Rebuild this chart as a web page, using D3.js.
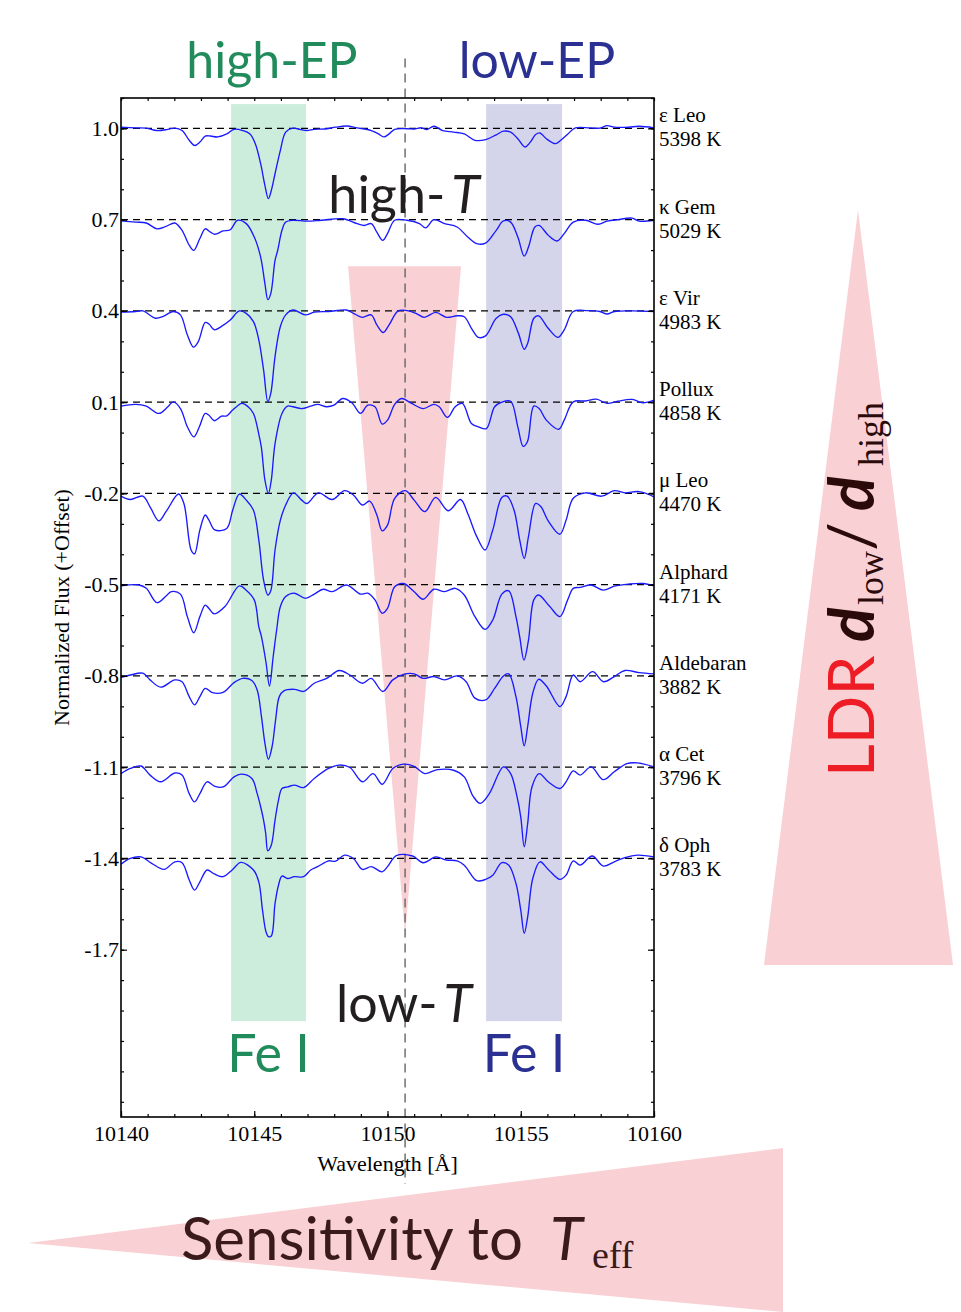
<!DOCTYPE html>
<html><head><meta charset="utf-8">
<script src="https://cdn.jsdelivr.net/npm/d3@7"></script>
<style>body{margin:0;background:#fff}svg{display:block}</style>
</head><body>
<svg id="chart" width="961" height="1312"></svg>
<script>
// ---------- data ----------
const starNames = ["ε Leo","κ Gem","ε Vir","Pollux","μ Leo","Alphard","Aldebaran","α Cet","δ Oph"];
const starTeff = [5398,5029,4983,4858,4470,4171,3882,3796,3783];
const offsets = [0,-0.3,-0.6,-0.9,-1.2,-1.5,-1.8,-2.1,-2.4];

const specEpsLeo = [[10140.00,1.004],[10140.55,1.002],[10140.95,1.001],[10141.35,0.993],[10141.76,0.997],[10142.02,1.001],[10142.29,0.993],[10142.56,0.961],[10142.76,0.944],[10142.96,0.955],[10143.16,0.975],[10143.36,0.975],[10143.63,0.972],[10143.97,0.982],[10144.24,0.997],[10144.57,0.993],[10144.84,0.982],[10145.04,0.950],[10145.24,0.884],[10145.40,0.813],[10145.53,0.769],[10145.64,0.796],[10145.78,0.851],[10145.98,0.928],[10146.18,0.988],[10146.45,1.001],[10146.71,0.997],[10146.98,0.993],[10147.25,0.997],[10147.65,0.998],[10148.05,1.004],[10148.46,1.008],[10148.86,1.002],[10149.39,0.993],[10149.66,0.982],[10149.86,0.972],[10150.06,0.982],[10150.27,0.997],[10150.73,0.999],[10151.00,0.998],[10151.27,1.002],[10151.47,0.996],[10151.74,1.007],[10152.07,0.993],[10152.48,0.988],[10152.88,0.982],[10153.28,0.961],[10153.68,0.963],[10154.08,0.979],[10154.35,0.991],[10154.62,0.988],[10154.89,0.966],[10155.16,0.939],[10155.36,0.955],[10155.56,0.980],[10155.72,0.985],[10155.96,0.966],[10156.30,0.950],[10156.50,0.961],[10156.77,0.982],[10157.03,1.001],[10157.57,1.002],[10157.97,1.001],[10158.24,1.009],[10158.51,1.004],[10159.04,1.004],[10159.44,1.007],[10160.00,1.002]];
const specKapGem = [[10140.00,0.996],[10140.55,0.992],[10140.95,0.989],[10141.35,0.970],[10141.69,0.978],[10142.02,0.989],[10142.29,0.965],[10142.56,0.916],[10142.73,0.899],[10142.96,0.938],[10143.16,0.970],[10143.36,0.959],[10143.52,0.952],[10143.83,0.963],[10144.10,0.967],[10144.37,0.998],[10144.70,0.987],[10145.00,0.943],[10145.24,0.877],[10145.40,0.790],[10145.51,0.737],[10145.62,0.757],[10145.78,0.866],[10145.88,0.899],[10146.04,0.965],[10146.18,0.992],[10146.45,0.998],[10146.98,0.995],[10147.52,0.998],[10148.32,1.003],[10148.86,0.987],[10149.13,0.981],[10149.39,0.987],[10149.60,0.959],[10149.82,0.932],[10150.00,0.954],[10150.27,0.998],[10150.73,0.998],[10151.20,0.987],[10151.43,0.973],[10151.74,1.000],[10152.14,0.987],[10152.61,0.976],[10153.01,0.943],[10153.35,0.921],[10153.68,0.923],[10154.08,0.965],[10154.35,0.996],[10154.62,0.992],[10154.89,0.943],[10155.13,0.880],[10155.29,0.910],[10155.53,0.976],[10155.69,0.981],[10156.03,0.949],[10156.36,0.930],[10156.63,0.954],[10156.97,0.992],[10157.43,0.998],[10157.90,0.985],[10158.24,0.995],[10158.64,1.000],[10159.18,1.005],[10159.44,0.995],[10160.00,0.998]];
const specEpsVir = [[10140.00,0.996],[10140.55,0.998],[10140.82,1.000],[10141.29,0.976],[10141.56,0.981],[10141.96,0.998],[10142.23,0.987],[10142.49,0.921],[10142.72,0.881],[10142.90,0.899],[10143.16,0.962],[10143.30,0.957],[10143.50,0.938],[10143.77,0.949],[10144.10,0.970],[10144.44,1.000],[10144.70,0.992],[10144.97,0.965],[10145.17,0.905],[10145.35,0.806],[10145.51,0.702],[10145.62,0.729],[10145.78,0.850],[10145.98,0.949],[10146.18,0.987],[10146.45,1.003],[10146.92,0.987],[10147.25,0.996],[10147.79,0.998],[10148.46,1.003],[10148.72,0.992],[10149.06,0.979],[10149.39,0.987],[10149.60,0.954],[10149.84,0.929],[10150.06,0.954],[10150.40,1.000],[10150.73,1.001],[10151.07,0.992],[10151.38,0.979],[10151.81,0.995],[10152.21,0.979],[10152.61,0.984],[10152.88,0.981],[10153.15,0.943],[10153.41,0.913],[10153.68,0.918],[10154.08,0.976],[10154.35,0.989],[10154.62,0.981],[10154.91,0.927],[10155.13,0.874],[10155.26,0.894],[10155.49,0.976],[10155.67,0.984],[10156.03,0.943],[10156.39,0.913],[10156.63,0.938],[10156.97,0.998],[10157.50,1.001],[10157.97,0.998],[10158.24,0.990],[10158.51,0.998],[10159.18,1.000],[10160.00,0.998]];
const specPollux = [[10140.00,0.987],[10140.55,0.993],[10140.95,0.987],[10141.42,0.963],[10141.76,0.985],[10141.96,1.001],[10142.23,0.979],[10142.49,0.919],[10142.73,0.886],[10142.94,0.919],[10143.16,0.963],[10143.30,0.957],[10143.50,0.939],[10143.77,0.954],[10143.97,0.955],[10144.19,0.974],[10144.54,0.996],[10144.77,0.985],[10144.97,0.963],[10145.17,0.895],[10145.27,0.850],[10145.40,0.744],[10145.53,0.700],[10145.64,0.744],[10145.78,0.864],[10146.04,0.963],[10146.25,0.987],[10146.45,0.985],[10146.78,0.979],[10147.12,0.987],[10147.38,0.993],[10147.72,0.985],[10147.99,0.990],[10148.32,1.012],[10148.66,0.998],[10148.99,0.963],[10149.26,0.990],[10149.53,0.985],[10149.80,0.928],[10150.00,0.941],[10150.27,0.993],[10150.53,1.012],[10150.87,0.998],[10151.34,0.979],[10151.74,0.993],[10151.94,0.985],[10152.25,0.950],[10152.54,0.985],[10152.81,0.996],[10153.15,0.930],[10153.41,0.919],[10153.71,0.913],[10154.02,0.985],[10154.29,1.000],[10154.62,1.003],[10154.89,0.919],[10155.09,0.855],[10155.25,0.870],[10155.49,0.987],[10155.69,0.979],[10155.96,0.941],[10156.43,0.911],[10156.63,0.941],[10156.97,1.001],[10157.43,1.004],[10157.84,1.010],[10158.24,0.996],[10158.64,1.003],[10159.18,1.009],[10159.58,0.998],[10160.00,1.007]];
const specMuLeo = [[10140.00,0.991],[10140.35,0.980],[10140.82,0.991],[10141.09,0.956],[10141.42,0.910],[10141.69,0.940],[10142.16,0.998],[10142.36,0.967],[10142.63,0.814],[10142.76,0.801],[10142.96,0.880],[10143.16,0.929],[10143.30,0.912],[10143.52,0.880],[10143.97,0.885],[10144.19,0.945],[10144.44,0.998],[10144.70,0.978],[10144.97,0.945],[10145.17,0.847],[10145.35,0.715],[10145.51,0.666],[10145.62,0.680],[10145.78,0.814],[10145.98,0.912],[10146.18,0.962],[10146.47,1.002],[10146.78,0.978],[10146.98,0.967],[10147.41,1.002],[10147.92,0.980],[10148.39,1.009],[10148.72,0.995],[10149.06,0.962],[10149.33,0.975],[10149.60,0.929],[10149.80,0.877],[10150.00,0.896],[10150.27,0.984],[10150.67,1.009],[10151.00,0.978],[10151.40,0.940],[10151.81,0.987],[10152.28,0.943],[10152.74,0.980],[10153.01,0.934],[10153.35,0.858],[10153.66,0.814],[10153.95,0.880],[10154.29,0.987],[10154.49,0.991],[10154.75,0.945],[10154.96,0.847],[10155.13,0.786],[10155.29,0.858],[10155.56,0.967],[10155.76,0.956],[10156.03,0.910],[10156.47,0.866],[10156.70,0.912],[10156.97,0.984],[10157.43,1.002],[10158.04,0.991],[10158.51,1.009],[10158.91,1.002],[10159.44,1.006],[10160.00,0.989]];
const specAlphard = [[10140.00,0.996],[10140.68,0.999],[10140.95,0.988],[10141.35,0.941],[10141.69,0.963],[10141.89,0.977],[10142.23,0.969],[10142.49,0.895],[10142.73,0.842],[10142.96,0.895],[10143.16,0.933],[10143.30,0.922],[10143.50,0.904],[10143.90,0.928],[10144.44,0.996],[10144.70,0.982],[10145.00,0.950],[10145.17,0.862],[10145.27,0.829],[10145.44,0.745],[10145.57,0.667],[10145.71,0.763],[10145.84,0.851],[10145.98,0.928],[10146.18,0.961],[10146.51,0.972],[10146.92,0.955],[10147.25,0.969],[10147.59,0.985],[10147.92,0.977],[10148.46,0.999],[10148.99,0.969],[10149.26,0.972],[10149.53,0.950],[10149.80,0.906],[10150.00,0.922],[10150.27,0.993],[10150.60,1.004],[10151.00,0.977],[10151.34,0.952],[10151.74,0.985],[10152.14,0.977],[10152.54,0.988],[10152.88,0.966],[10153.28,0.895],[10153.66,0.853],[10153.95,0.884],[10154.29,0.969],[10154.55,0.980],[10154.82,0.895],[10154.96,0.829],[10155.12,0.752],[10155.29,0.818],[10155.49,0.950],[10155.67,0.966],[10156.09,0.928],[10156.47,0.895],[10156.76,0.950],[10156.97,0.988],[10157.23,0.991],[10157.64,0.999],[10158.10,0.982],[10158.51,0.995],[10159.04,1.002],[10159.58,1.004],[10160.00,0.996]];
const specAldebaran = [[10140.00,0.995],[10140.35,1.003],[10140.82,1.009],[10141.09,0.987],[10141.49,0.963],[10142.02,0.987],[10142.29,0.981],[10142.56,0.932],[10142.76,0.905],[10142.96,0.932],[10143.16,0.959],[10143.43,0.945],[10143.83,0.946],[10144.24,0.978],[10144.57,0.992],[10144.91,0.985],[10145.11,0.954],[10145.27,0.866],[10145.40,0.779],[10145.53,0.726],[10145.67,0.768],[10145.80,0.855],[10145.94,0.932],[10146.11,0.951],[10146.51,0.956],[10146.85,0.949],[10147.25,0.976],[10147.72,0.992],[10148.19,1.018],[10148.59,1.003],[10149.06,0.976],[10149.39,0.992],[10149.82,0.949],[10150.20,0.987],[10150.60,1.005],[10151.00,1.007],[10151.34,0.992],[10151.74,0.998],[10152.14,0.987],[10152.61,1.000],[10152.95,0.981],[10153.28,0.927],[10153.68,0.921],[10154.02,0.959],[10154.35,1.000],[10154.55,1.007],[10154.82,0.932],[10155.00,0.834],[10155.13,0.770],[10155.26,0.834],[10155.45,0.943],[10155.67,0.989],[10155.96,0.967],[10156.47,0.899],[10156.70,0.932],[10156.97,1.003],[10157.23,0.981],[10157.70,1.014],[10158.10,0.981],[10158.51,0.998],[10158.91,1.018],[10159.44,1.011],[10160.00,1.007]];
const specAlpCet = [[10140.00,0.979],[10140.35,0.996],[10140.75,1.004],[10141.09,0.974],[10141.49,0.952],[10142.02,0.981],[10142.29,0.974],[10142.56,0.913],[10142.76,0.886],[10142.96,0.913],[10143.23,0.952],[10143.50,0.938],[10143.83,0.935],[10144.24,0.968],[10144.50,0.977],[10144.91,0.963],[10145.11,0.913],[10145.24,0.870],[10145.35,0.826],[10145.43,0.782],[10145.51,0.725],[10145.64,0.744],[10145.78,0.826],[10145.91,0.892],[10146.04,0.930],[10146.25,0.935],[10146.51,0.941],[10146.85,0.933],[10147.25,0.963],[10147.79,0.996],[10148.19,1.007],[10148.59,0.999],[10149.06,0.952],[10149.46,0.979],[10149.80,0.944],[10150.20,0.996],[10150.60,1.010],[10151.00,1.003],[10151.40,0.979],[10151.87,0.992],[10152.48,0.990],[10152.88,0.968],[10153.21,0.905],[10153.48,0.881],[10153.82,0.913],[10154.35,1.001],[10154.62,0.979],[10154.86,0.903],[10155.00,0.837],[10155.13,0.738],[10155.26,0.815],[10155.42,0.935],[10155.69,0.979],[10156.03,0.952],[10156.47,0.930],[10156.70,0.952],[10156.97,0.988],[10157.23,0.974],[10157.64,1.001],[10158.10,0.959],[10158.51,0.985],[10158.98,1.012],[10159.38,1.014],[10160.00,1.001]];
const specDelOph = [[10140.00,0.981],[10140.35,1.000],[10140.75,1.005],[10141.15,0.984],[10141.62,0.964],[10142.02,0.989],[10142.29,0.986],[10142.56,0.929],[10142.76,0.896],[10142.96,0.923],[10143.23,0.962],[10143.50,0.949],[10143.83,0.940],[10144.17,0.962],[10144.50,0.987],[10144.97,0.962],[10145.17,0.923],[10145.31,0.830],[10145.44,0.759],[10145.53,0.743],[10145.64,0.745],[10145.78,0.852],[10145.91,0.912],[10146.04,0.942],[10146.25,0.934],[10146.51,0.940],[10146.85,0.940],[10147.12,0.962],[10147.38,0.973],[10147.79,0.992],[10148.05,0.991],[10148.39,1.011],[10148.72,1.000],[10149.06,0.964],[10149.39,0.973],[10149.80,0.956],[10150.00,0.973],[10150.33,1.009],[10150.94,1.008],[10151.34,0.986],[10151.81,1.005],[10152.21,0.995],[10152.61,0.992],[10152.88,0.978],[10153.35,0.927],[10153.68,0.931],[10153.95,0.945],[10154.29,0.986],[10154.55,0.978],[10154.82,0.918],[10155.00,0.830],[10155.13,0.754],[10155.26,0.808],[10155.45,0.934],[10155.72,0.989],[10156.03,0.964],[10156.47,0.931],[10156.70,0.945],[10156.97,0.992],[10157.23,0.978],[10157.68,1.008],[10158.10,0.975],[10158.51,0.989],[10158.91,1.003],[10159.38,1.011],[10160.00,1.005]];
const spectra = [specEpsLeo,specKapGem,specEpsVir,specPollux,specMuLeo,specAlphard,specAldebaran,specAlpCet,specDelOph];

const xDomain = [10140,10160];
const yDomain = [-2.25,1.1];
const xMajorTicks = [10140,10145,10150,10155,10160];
const yMajorTicks = [1.0,0.7,0.4,0.1,-0.2,-0.5,-0.8,-1.1,-1.4,-1.7];
const highEPBand = [10144.13,10146.94];
const lowEPBand = [10153.70,10156.55];
const bandRange = [-1.935,1.08];
const refWave = 10150.66;
const refLineRange = [-2.47,1.23];
const funnelTop = {y:0.547, left:10148.52, right:10152.76};
const funnelTip = {x:10150.66, y:-1.652};

// ---------- layout ----------
const svg = d3.select("#chart");
const M = {left:121, right:654, top:98, bottom:1117};
const x = d3.scaleLinear().domain(xDomain).range([M.left,M.right]);
const y = d3.scaleLinear().domain(yDomain).range([M.bottom,M.top]);
const serif = "'Liberation Serif','Times New Roman',serif";
const sans = "Lato,'Open Sans',sans-serif";
const pink = "#f9d0d3";

// decorative triangles outside plot
svg.append("polygon").attr("points","858,210 764,965 953,965").attr("fill",pink);
svg.append("polygon").attr("points","28,1243 783,1148 783,1312").attr("fill",pink);

// bands
svg.append("rect").attr("x",x(highEPBand[0])).attr("width",x(highEPBand[1])-x(highEPBand[0]))
  .attr("y",y(bandRange[1])).attr("height",y(bandRange[0])-y(bandRange[1])).attr("fill","#cdeddc");
svg.append("rect").attr("x",x(lowEPBand[0])).attr("width",x(lowEPBand[1])-x(lowEPBand[0]))
  .attr("y",y(bandRange[1])).attr("height",y(bandRange[0])-y(bandRange[1])).attr("fill","#d4d5ea");
svg.append("polygon").attr("fill",pink)
  .attr("points",[[x(funnelTop.left),y(funnelTop.y)],[x(funnelTop.right),y(funnelTop.y)],[x(funnelTip.x),y(funnelTip.y)]].map(p=>p.join(",")).join(" "));

// reference vertical dashed line
svg.append("line").attr("x1",x(refWave)).attr("x2",x(refWave)).attr("y1",y(refLineRange[1])).attr("y2",y(refLineRange[0]))
  .attr("stroke","#666").attr("stroke-width",1.4).attr("stroke-dasharray","9,6");

// continuum dashed lines
svg.append("g").selectAll("line").data(offsets).join("line")
  .attr("x1",M.left).attr("x2",M.right).attr("y1",d=>y(1+d)).attr("y2",d=>y(1+d))
  .attr("stroke","#000").attr("stroke-width",1.2).attr("stroke-dasharray","7,5");

// spectra
const line = d3.line().curve(d3.curveCatmullRom.alpha(0.5));
svg.append("g").selectAll("path").data(spectra).join("path")
  .attr("d",(s,i)=>line(s.map(p=>[x(p[0]),y(p[1]+offsets[i])])))
  .attr("fill","none").attr("stroke","#1a1aff").attr("stroke-width",1.35);

// axes
const xMinor = d3.range(10140,10161,1);
const yMinor = d3.range(-22,12,1).map(v=>v/10);
function styleAxis(g){ g.select(".domain").remove(); g.selectAll("line").attr("stroke","#000").attr("stroke-width",1.2); }
svg.append("g").attr("transform",`translate(0,${M.bottom})`)
  .call(d3.axisBottom(x).tickValues(xMinor).tickSize(-3).tickFormat("")).call(styleAxis);
svg.append("g").attr("transform",`translate(0,${M.bottom})`)
  .call(d3.axisBottom(x).tickValues(xMajorTicks).tickSize(-6).tickPadding(8).tickFormat(d3.format("d")))
  .call(styleAxis).call(g=>g.selectAll("text").attr("font-family",serif).attr("font-size",22).attr("fill","#000"));
svg.append("g").attr("transform",`translate(0,${M.top})`)
  .call(d3.axisTop(x).tickValues(xMinor).tickSize(-3).tickFormat("")).call(styleAxis);
svg.append("g").attr("transform",`translate(${M.left},0)`)
  .call(d3.axisLeft(y).tickValues(yMinor).tickSize(-3).tickFormat("")).call(styleAxis);
svg.append("g").attr("transform",`translate(${M.left},0)`)
  .call(d3.axisLeft(y).tickValues(yMajorTicks).tickSize(-6).tickPadding(2).tickFormat(d=>d.toFixed(1)))
  .call(styleAxis).call(g=>g.selectAll("text").attr("font-family",serif).attr("font-size",22).attr("fill","#000"));
svg.append("g").attr("transform",`translate(${M.right},0)`)
  .call(d3.axisRight(y).tickValues(yMinor).tickSize(-3).tickFormat("")).call(styleAxis);
svg.append("g").attr("transform",`translate(${M.right},0)`)
  .call(d3.axisRight(y).tickValues(yMajorTicks).tickSize(-6).tickFormat("")).call(styleAxis);

// frame
svg.append("rect").attr("x",M.left).attr("y",M.top).attr("width",M.right-M.left).attr("height",M.bottom-M.top)
  .attr("fill","none").attr("stroke","#000").attr("stroke-width",1.6);

// axis titles
svg.append("text").attr("x",(M.left+M.right)/2).attr("y",1171).attr("text-anchor","middle")
  .attr("font-family",serif).attr("font-size",22).text("Wavelength [Å]");
svg.append("text").attr("transform",`translate(69,${(M.top+M.bottom)/2}) rotate(-90)`).attr("text-anchor","middle")
  .attr("font-family",serif).attr("font-size",22).text("Normalized Flux (+Offset)");

// star labels
const lab = svg.append("g").attr("font-family",serif).attr("font-size",21).attr("fill","#000");
starNames.forEach((n,i)=>{
  const yc = y(1+offsets[i]);
  lab.append("text").attr("x",659).attr("y",yc-6).text(n);
  lab.append("text").attr("x",659).attr("y",yc+18).text(starTeff[i]+" K");
});

// big labels
svg.append("text").attr("x",272).attr("y",78).attr("text-anchor","middle").attr("font-family",sans)
  .attr("font-size",50).attr("fill","#218b5c").text("high-EP");
svg.append("text").attr("x",537).attr("y",78).attr("text-anchor","middle").attr("font-family",sans)
  .attr("font-size",50).attr("fill","#2b3192").text("low-EP");
svg.append("text").attr("x",(x(highEPBand[0])+x(highEPBand[1]))/2).attr("y",1072).attr("text-anchor","middle")
  .attr("font-family",sans).attr("font-size",52).attr("fill","#218b5c").text("Fe I");
svg.append("text").attr("x",(x(lowEPBand[0])+x(lowEPBand[1]))/2).attr("y",1072).attr("text-anchor","middle")
  .attr("font-family",sans).attr("font-size",52).attr("fill","#2b3192").text("Fe I");

function tLabel(xc, yb, word){
  const t = svg.append("text").attr("x",xc).attr("y",yb).attr("text-anchor","middle")
    .attr("font-family",sans).attr("font-size",52).attr("fill","#231f20");
  t.append("tspan").text(word);
  t.append("tspan").attr("font-style","italic").attr("dx",6).text("T");
}
tLabel(404,213,"high-");
tLabel(404,1022,"low-");

// LDR label (rotated)
const ldr = svg.append("text").attr("transform","translate(874,777) rotate(-90)")
  .attr("font-family",sans).attr("font-size",64).attr("fill","#2b0a0a");
ldr.append("tspan").attr("x",0).attr("fill","#ee1c24").text("LDR");
ldr.append("tspan").attr("x",135).attr("font-style","italic").attr("font-weight",700).text("d");
ldr.append("tspan").attr("x",172).attr("dy",9).attr("font-family",serif).attr("font-size",36).text("low");
ldr.append("tspan").attr("x",226).attr("dy",-9).text("/");
ldr.append("tspan").attr("x",266).attr("font-style","italic").attr("font-weight",700).text("d");
ldr.append("tspan").attr("x",311).attr("dy",9).attr("font-family",serif).attr("font-size",36).text("high");

// Sensitivity label
const sens = svg.append("text").attr("x",181).attr("y",1260).attr("font-family",sans).attr("font-size",60).attr("fill","#3b1a1c");
sens.append("tspan").text("Sensitivity to");
sens.append("tspan").attr("x",550).attr("font-style","italic").text("T");
sens.append("tspan").attr("x",592).attr("dy",8).attr("font-family",serif).attr("font-size",38).text("eff");
</script>
</body></html>
